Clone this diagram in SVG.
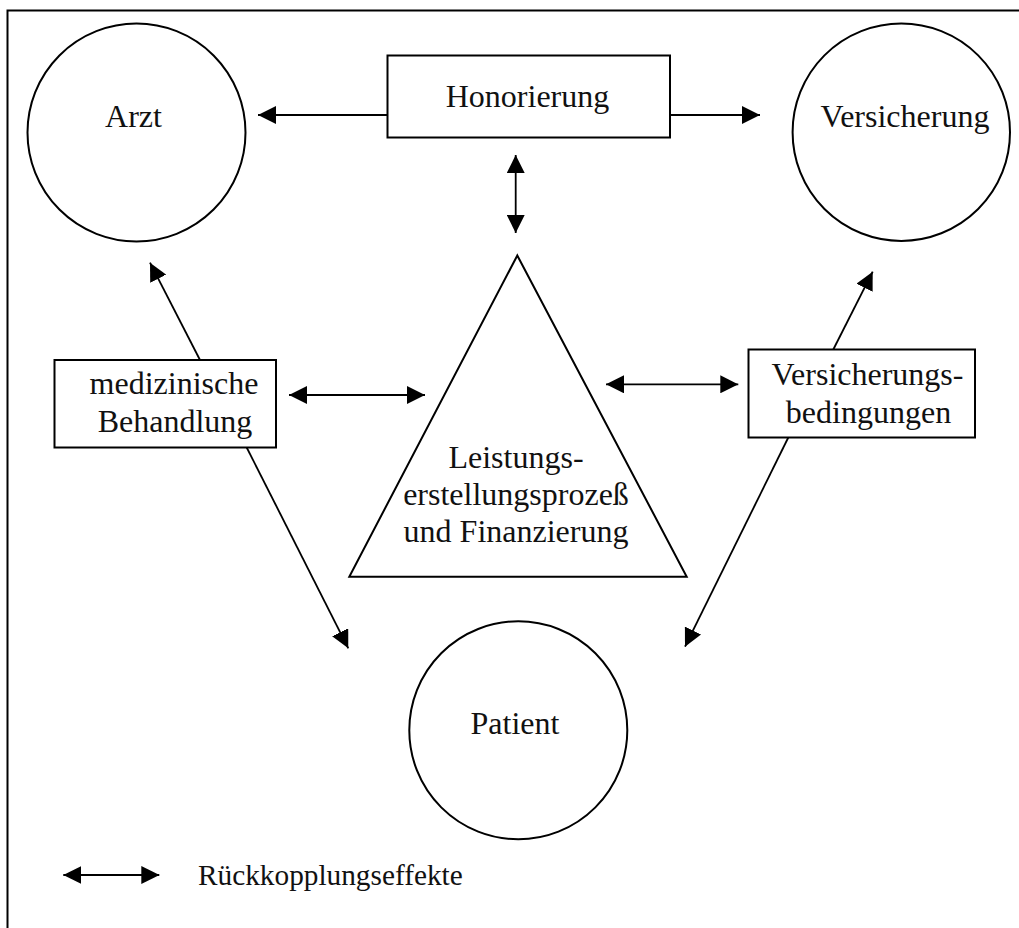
<svg xmlns="http://www.w3.org/2000/svg" width="1019" height="928" viewBox="0 0 1019 928">
<style>
.shape{fill:#fff;stroke:#000;stroke-width:2}
.frame{fill:none;stroke:#000;stroke-width:2}
.con{stroke:#000;stroke-width:1.8;fill:none}
text{font-family:"Liberation Serif","Times New Roman",serif;font-size:32px;fill:#111}
.c{text-anchor:middle}
.legend{font-size:29.3px}
</style>
<defs>
<marker id="ah" viewBox="0 0 18 18" refX="18" refY="9" markerWidth="18" markerHeight="18" markerUnits="userSpaceOnUse" orient="auto-start-reverse">
<path d="M0,0 L18,9 L0,18 z" fill="#000"/>
</marker>
</defs>
<rect class="frame" x="7.5" y="10.5" width="1030" height="940"/>
<g id="arzt"><circle class="shape" cx="136.5" cy="132.5" r="109"/><text class="c" x="133.5" y="127">Arzt</text></g>
<g id="versicherung"><circle class="shape" cx="901.3" cy="132.2" r="108.7"/><text class="c" x="905" y="127">Versicherung</text></g>
<g id="patient"><circle class="shape" cx="518.3" cy="730.3" r="109"/><text class="c" x="515" y="734">Patient</text></g>
<g id="honorierung"><rect class="shape" x="387.5" y="55.5" width="282.5" height="82"/><text class="c" x="527.5" y="107">Honorierung</text></g>
<g id="behandlung"><rect class="shape" x="54.5" y="360" width="221.5" height="87.5"/><text class="c" x="174" y="394">medizinische</text><text class="c" x="175" y="432">Behandlung</text></g>
<g id="bedingungen"><rect class="shape" x="748.5" y="349.5" width="226.5" height="88"/><text class="c" x="867.5" y="385">Versicherungs-</text><text class="c" x="868.5" y="423">bedingungen</text></g>
<g id="prozess"><polygon class="shape" points="517.3,255.5 686.7,576.7 349.3,576.7"/><text class="c" x="516" y="468">Leistungs-</text><text class="c" x="516" y="505">erstellungsprozeß</text><text class="c" x="516" y="542">und Finanzierung</text></g>
<g id="connectors">
<line class="con" x1="387.5" y1="115" x2="258" y2="115" marker-end="url(#ah)"/>
<line class="con" x1="670" y1="115" x2="760" y2="115" marker-end="url(#ah)"/>
<line class="con" x1="515.7" y1="155" x2="515.7" y2="233" marker-start="url(#ah)" marker-end="url(#ah)"/>
<line class="con" x1="200" y1="360" x2="150" y2="262.7" marker-end="url(#ah)"/>
<line class="con" x1="289" y1="395" x2="425" y2="395" marker-start="url(#ah)" marker-end="url(#ah)"/>
<line class="con" x1="246.7" y1="447.5" x2="348.3" y2="648.3" marker-end="url(#ah)"/>
<line class="con" x1="833.3" y1="349.5" x2="872.7" y2="271.7" marker-end="url(#ah)"/>
<line class="con" x1="606" y1="384.3" x2="738.3" y2="384.3" marker-start="url(#ah)" marker-end="url(#ah)"/>
<line class="con" x1="788.3" y1="437.5" x2="685" y2="646.7" marker-end="url(#ah)"/>
</g>
<g id="legend">
<line class="con" x1="63.3" y1="875" x2="159.3" y2="875" marker-start="url(#ah)" marker-end="url(#ah)"/>
<text class="legend" x="198" y="885">Rückkopplungseffekte</text>
</g>
</svg>
